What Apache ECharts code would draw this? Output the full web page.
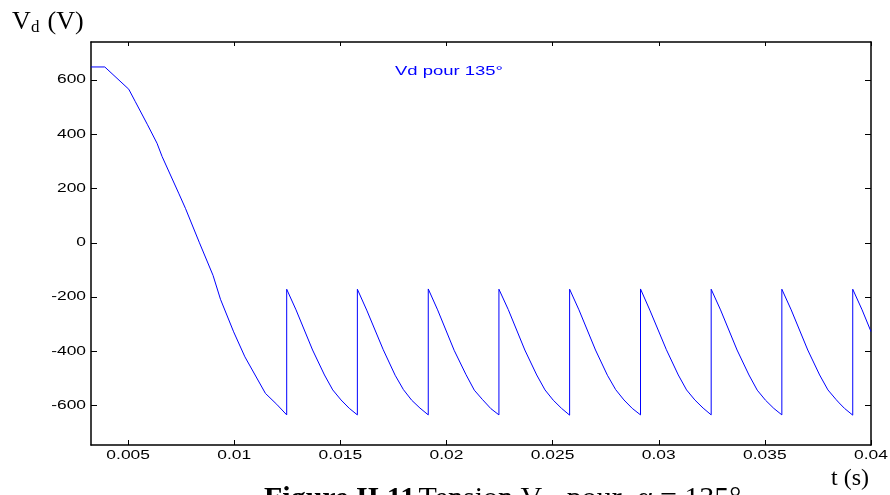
<!DOCTYPE html>
<html>
<head>
<meta charset="utf-8">
<script src="https://cdn.jsdelivr.net/npm/echarts@6/dist/echarts.min.js"></script>
<style>
  html, body { margin: 0; padding: 0; background: #fff; }
  #chart { width: 890px; height: 495px; }
</style>
</head>
<body>
<div id="chart"></div>
<script>
// Rectified output voltage Vd (firing angle 135°), time in seconds
const timeS = [
  0.00325, 0.0039, 0.00503, 0.00534, 0.0059, 0.00636, 0.0066, 0.00738, 0.0077, 0.00836,
  0.0090, 0.00935, 0.00997, 0.0105, 0.01147, 0.0120, 0.01247,
  0.01247, 0.01291, 0.01369, 0.01425, 0.01464, 0.01503, 0.01542, 0.01580,
  0.01580, 0.01624, 0.01702, 0.01758, 0.01797, 0.01836, 0.01875, 0.01914,
  0.01914, 0.01958, 0.02036, 0.02092, 0.02131, 0.02170, 0.02209, 0.02247,
  0.02247, 0.02291, 0.02369, 0.02425, 0.02464, 0.02503, 0.02542, 0.02580,
  0.02580, 0.02624, 0.02702, 0.02758, 0.02797, 0.02836, 0.02875, 0.02914,
  0.02914, 0.02958, 0.03036, 0.03092, 0.03131, 0.03170, 0.03209, 0.03247,
  0.03247, 0.03291, 0.03369, 0.03425, 0.03464, 0.03503, 0.03542, 0.03580,
  0.03580, 0.03624, 0.03702, 0.03758, 0.03797, 0.03836, 0.03850, 0.03875, 0.03914,
  0.03914, 0.03958, 0.04000
];
const voltV = [
  648, 648, 566, 520, 437, 367, 318, 183, 127, 0,
  -120, -208, -328, -420, -555, -595, -634,
  -171, -247, -395, -487, -542, -579, -610, -634,
  -171, -248, -394, -488, -541, -580, -609, -634,
  -170, -247, -396, -486, -543, -578, -611, -634,
  -171, -246, -395, -487, -542, -580, -610, -635,
  -171, -247, -395, -488, -541, -579, -610, -634,
  -170, -248, -394, -487, -542, -579, -609, -634,
  -171, -247, -395, -487, -543, -580, -610, -634,
  -171, -247, -395, -487, -542, -578, -590, -610, -635,
  -171, -247, -327
];

// Axis ticks and their labels
const xTicks = [0.005, 0.01, 0.015, 0.02, 0.025, 0.03, 0.035, 0.04];
const xTickLabels = ['0.005', '0.01', '0.015', '0.02', '0.025', '0.03', '0.035', '0.04'];
const yTicks = [600, 400, 200, 0, -200, -400, -600];
const yTickLabels = ['600', '400', '200', '0', '-200', '-400', '-600'];

const X_MIN = 0.00325, X_MAX = 0.04;
const Y_MIN = -745, Y_MAX = 740;

const chart = echarts.init(document.getElementById('chart'), null, { renderer: 'canvas' });

const frameAxis = {
  axisLine: { show: true, onZero: false, lineStyle: { color: '#000', width: 1.5 } },
  axisLabel: { show: false },
  splitLine: { show: false }
};

chart.setOption({
  animation: false,
  backgroundColor: '#fff',
  grid: { left: 91, right: 19, top: 42, bottom: 50, containLabel: false },
  xAxis: [
    Object.assign({ type: 'value', position: 'bottom', min: X_MIN, max: X_MAX,
      axisTick: { show: true, inside: true, length: 5, customValues: xTicks, lineStyle: { color: '#000', width: 1 } } }, frameAxis),
    Object.assign({ type: 'value', position: 'top', min: X_MIN, max: X_MAX,
      axisTick: { show: true, inside: true, length: 4, customValues: xTicks, lineStyle: { color: '#000', width: 1 } } }, frameAxis)
  ],
  yAxis: [
    Object.assign({ type: 'value', position: 'left', min: Y_MIN, max: Y_MAX,
      axisTick: { show: true, inside: true, length: 6, customValues: yTicks, lineStyle: { color: '#000', width: 1 } } }, frameAxis),
    Object.assign({ type: 'value', position: 'right', min: Y_MIN, max: Y_MAX,
      axisTick: { show: true, inside: true, length: 6, customValues: yTicks, lineStyle: { color: '#000', width: 1 } } }, frameAxis)
  ],
  series: [{
    type: 'line',
    xAxisIndex: 0,
    yAxisIndex: 0,
    data: timeS.map((t, i) => [t, voltV[i]]),
    showSymbol: false,
    symbol: 'none',
    clip: true,
    lineStyle: { color: '#0000ff', width: 1 }
  }]
});

// Tick labels: wide sans lettering, placed at the axis' own pixel positions
const LABEL_FONT = '12px "Liberation Sans", Arial, sans-serif';
const LABEL_SCALE = 1.45;
const graphics = [];
const plotLeft = chart.convertToPixel({ xAxisIndex: 0 }, X_MIN);
const plotBottom = chart.convertToPixel({ yAxisIndex: 0 }, Y_MIN);

xTicks.forEach((v, i) => {
  graphics.push({
    type: 'text',
    x: chart.convertToPixel({ xAxisIndex: 0 }, v),
    y: plotBottom + 11,
    scaleX: LABEL_SCALE,
    silent: true,
    style: { text: xTickLabels[i], font: LABEL_FONT, fill: '#000',
      textAlign: 'center', align: 'center', textVerticalAlign: 'middle', verticalAlign: 'middle' }
  });
});
yTicks.forEach((v, i) => {
  graphics.push({
    type: 'text',
    x: plotLeft - 5,
    y: chart.convertToPixel({ yAxisIndex: 0 }, v),
    scaleX: LABEL_SCALE,
    silent: true,
    style: { text: yTickLabels[i], font: LABEL_FONT, fill: '#000',
      textAlign: 'right', align: 'right', textVerticalAlign: 'middle', verticalAlign: 'middle' }
  });
});

// Plot title inside the frame
graphics.push({
  type: 'text', x: 449, y: 71.5, scaleX: 1.42, silent: true,
  style: { text: 'Vd pour 135°', font: '13px "Liberation Sans", Arial, sans-serif', fill: '#0000ff',
    textAlign: 'center', align: 'center', textVerticalAlign: 'middle', verticalAlign: 'middle' }
});

// Axis names in serif lettering
const SERIF = '"Liberation Serif", "Times New Roman", serif';
graphics.push(
  { type: 'text', x: 12, y: 22, silent: true,
    style: { text: 'V', font: '26px ' + SERIF, fill: '#000', textAlign: 'left', align: 'left', textVerticalAlign: 'middle', verticalAlign: 'middle' } },
  { type: 'text', x: 31, y: 27.5, silent: true,
    style: { text: 'd', font: '17px ' + SERIF, fill: '#000', textAlign: 'left', align: 'left', textVerticalAlign: 'middle', verticalAlign: 'middle' } },
  { type: 'text', x: 47.5, y: 22, silent: true,
    style: { text: '(V)', font: '26px ' + SERIF, fill: '#000', textAlign: 'left', align: 'left', textVerticalAlign: 'middle', verticalAlign: 'middle' } },
  { type: 'text', x: 831, y: 479, silent: true,
    style: { text: 't (s)', font: '24px ' + SERIF, fill: '#000', textAlign: 'left', align: 'left', textVerticalAlign: 'middle', verticalAlign: 'middle' } }
);

// Figure caption along the bottom edge
graphics.push({
  type: 'text', x: 264, y: 499.5, silent: true,
  style: {
    text: '{b|Figure II.11} {r|Tension V}{s|d}{r|  pour  α = 135°}',
    textAlign: 'left', align: 'left', textVerticalAlign: 'middle', verticalAlign: 'middle',
    rich: {
      b: { font: 'bold 30px ' + SERIF, fill: '#000' },
      r: { font: '30px ' + SERIF, fill: '#000' },
      s: { font: '19px ' + SERIF, fill: '#000', padding: [13, 0, 0, 0] }
    }
  }
});

chart.setOption({ graphic: graphics });
</script>
</body>
</html>
